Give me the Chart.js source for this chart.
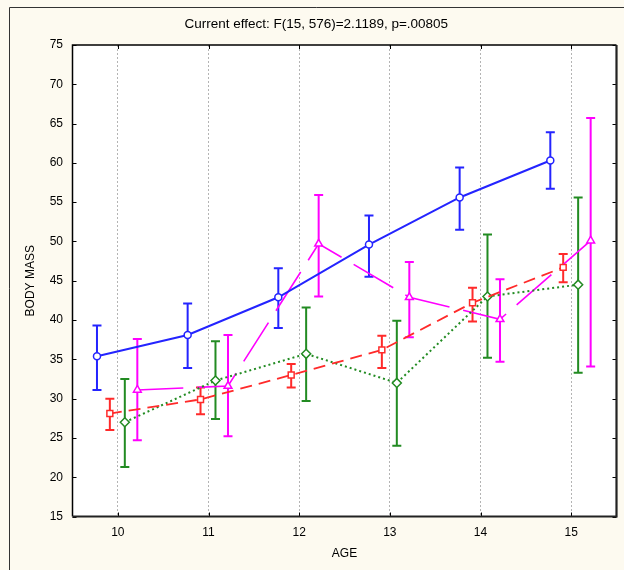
<!DOCTYPE html>
<html>
<head>
<meta charset="utf-8">
<script src="https://cdn.jsdelivr.net/npm/chart.js@4.4.1/dist/chart.umd.min.js"></script>
<style>
  body { margin: 0; background: #fdfaf0; }
  canvas { display: block; }
</style>
</head>
<body>
<canvas id="chart" width="624" height="570"></canvas>
<script>
// ages on the x axis
const ages = [10, 11, 12, 13, 14, 15];

// group 1 (blue, circles)
const blueMean = [35.4, 38.1, 42.9, 49.6, 55.6, 60.3];
const blueLow  = [31.1, 33.9, 39.0, 45.5, 51.5, 56.7];
const blueHigh = [39.3, 42.1, 46.6, 53.3, 59.4, 63.9];

// group 2 (red, squares)
const redMean = [28.1, 29.9, 33.0, 36.2, 42.2, 46.7];
const redLow  = [26.0, 28.0, 31.4, 33.9, 39.8, 44.8];
const redHigh = [30.0, 31.4, 34.4, 38.0, 44.1, 48.4];

// group 3 (green, diamonds)
const greenMean = [27.0, 32.3, 35.7, 32.0, 43.0, 44.5];
const greenLow  = [21.3, 27.4, 29.7, 24.0, 35.2, 33.3];
const greenHigh = [32.5, 37.3, 41.6, 39.9, 50.9, 55.6];

// group 4 (magenta, triangles)
const magentaMean = [31.1, 31.6, 49.7, 42.9, 40.1, 50.1];
const magentaLow  = [24.7, 25.2, 43.0, 37.8, 34.7, 34.1];
const magentaHigh = [37.6, 38.1, 55.9, 47.4, 45.2, 65.7];

const titleText = 'Current effect: F(15, 576)=2.1189, p=.00805';
const FONT = 'Arial, "Liberation Sans", sans-serif';

// small horizontal dodge so the groups don't overlap
const makePoints = (mean, off) => ages.map((a, i) => ({ x: a + off, y: mean[i] }));

const series = (color, mean, low, high, off, style, radius, dash, width) => ({
  data: makePoints(mean, off),
  errLow: low,
  errHigh: high,
  borderColor: color,
  backgroundColor: '#ffffff',
  borderWidth: width,
  borderDash: dash,
  borderCapStyle: 'butt',
  tension: 0,
  pointStyle: style,
  pointRadius: radius,
  pointBorderWidth: 1.5,
  pointBorderColor: color,
  pointBackgroundColor: '#ffffff',
  fill: false
});

const errorBars = {
  id: 'errorBars',
  beforeDraw(chart) {
    const { ctx, chartArea: a } = chart;
    ctx.save();
    ctx.fillStyle = '#fdfaf0';
    ctx.fillRect(0, 0, chart.width, chart.height);
    ctx.fillStyle = '#ffffff';
    ctx.fillRect(a.left, a.top, a.right - a.left, a.bottom - a.top);
    // outer picture border (left and top only visible)
    ctx.strokeStyle = '#333';
    ctx.lineWidth = 1;
    ctx.beginPath();
    ctx.moveTo(9.5, chart.height);
    ctx.lineTo(9.5, 7.5);
    ctx.lineTo(chart.width, 7.5);
    ctx.stroke();
    ctx.restore();
  },
  beforeDatasetsDraw(chart) {
    const { ctx } = chart;
    const yScale = chart.scales.y;
    ctx.save();
    chart.data.datasets.forEach((ds, i) => {
      const meta = chart.getDatasetMeta(i);
      ctx.strokeStyle = ds.borderColor;
      ctx.lineWidth = 2;
      ctx.setLineDash([]);
      meta.data.forEach((pt, j) => {
        const yl = yScale.getPixelForValue(ds.errLow[j]);
        const yh = yScale.getPixelForValue(ds.errHigh[j]);
        const x = pt.x;
        ctx.beginPath();
        ctx.moveTo(x, yl); ctx.lineTo(x, yh);
        ctx.moveTo(x - 4.5, yl); ctx.lineTo(x + 4.5, yl);
        ctx.moveTo(x - 4.5, yh); ctx.lineTo(x + 4.5, yh);
        ctx.stroke();
      });
    });
    ctx.restore();
  },
  afterDraw(chart) {
    const { ctx, chartArea: a } = chart;
    const xs = chart.scales.x, ys = chart.scales.y;
    ctx.save();
    ctx.strokeStyle = '#000';
    ctx.setLineDash([]);
    // tick marks pointing inward
    ctx.lineWidth = 1;
    ctx.beginPath();
    ys.ticks.forEach(t => {
      const y = Math.round(ys.getPixelForValue(t.value)) + 0.5;
      ctx.moveTo(a.left, y); ctx.lineTo(a.left + 4, y);
      ctx.moveTo(a.right, y); ctx.lineTo(a.right - 4, y);
    });
    xs.ticks.forEach(t => {
      const x = Math.round(xs.getPixelForValue(t.value)) + 0.5;
      ctx.moveTo(x, a.bottom); ctx.lineTo(x, a.bottom - 4);
      ctx.moveTo(x, a.top); ctx.lineTo(x, a.top + 4);
    });
    ctx.stroke();
    // plot frame
    ctx.lineWidth = 1.5;
    ctx.beginPath();
    ctx.moveTo(a.left, a.bottom); ctx.lineTo(a.left, a.top); ctx.lineTo(a.right, a.top);
    ctx.stroke();
    ctx.lineWidth = 2.2;
    ctx.strokeStyle = '#222';
    ctx.beginPath();
    ctx.moveTo(a.left, a.bottom); ctx.lineTo(a.right, a.bottom); ctx.lineTo(a.right, a.top);
    ctx.stroke();
    ctx.restore();
  }
};

new Chart(document.getElementById('chart'), {
  type: 'line',
  data: {
    datasets: [
      series('#2424ff', blueMean, blueLow, blueHigh, -0.23, 'circle', 3.5, [], 2),
      series('#ff2a2a', redMean, redLow, redHigh, -0.088, 'rect', 4.2, [12, 7], 1.8),
      series('#228b22', greenMean, greenLow, greenHigh, 0.077, 'rectRot', 4.5, [2, 3], 2),
      series('#ff00ff', magentaMean, magentaLow, magentaHigh, 0.215, 'triangle', 4.5, [46, 14], 1.6)
    ]
  },
  options: {
    responsive: false,
    animation: false,
    layout: { padding: { left: 16, right: 7.5, top: 0, bottom: 0 } },
    plugins: {
      legend: { display: false },
      tooltip: { enabled: false },
      title: {
        display: true,
        text: titleText,
        color: '#000',
        font: { family: FONT, size: 13.5, weight: 'normal' },
        padding: { top: 16.6, bottom: 12.2 }
      }
    },
    scales: {
      x: {
        type: 'linear',
        min: 9.5,
        max: 15.5,
        afterBuildTicks: s => { s.ticks = ages.map(v => ({ value: v })); },
        afterFit: s => { s.height = 53.5; },
        grid: { display: true, color: '#b4b4b4', lineWidth: 1, drawTicks: false },
        border: { display: false, dash: [2, 2] },
        ticks: { color: '#000', padding: 9, font: { family: FONT, size: 12 } },
        title: {
          display: true, text: 'AGE', color: '#000',
          font: { family: FONT, size: 12 }, padding: { top: 2, bottom: 9 }
        }
      },
      y: {
        min: 15,
        max: 75,
        afterFit: s => { s.width = 56.5; },
        grid: { display: false, drawTicks: false },
        border: { display: false },
        ticks: { stepSize: 5, color: '#000', padding: 9.5, font: { family: FONT, size: 12 } },
        title: {
          display: true, text: 'BODY MASS', color: '#000',
          font: { family: FONT, size: 12 }, padding: { top: 7.8, bottom: 2 }
        }
      }
    }
  },
  plugins: [errorBars]
});
</script>
</body>
</html>
